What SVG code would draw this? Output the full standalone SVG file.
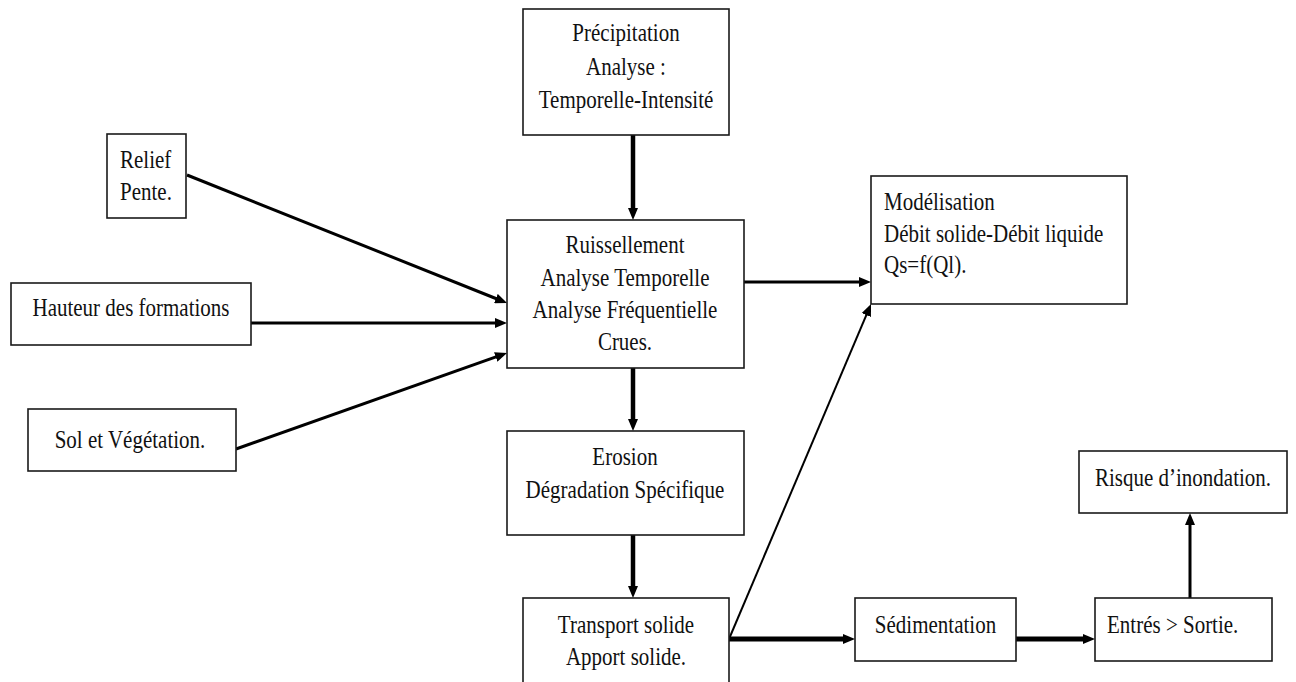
<svg xmlns="http://www.w3.org/2000/svg" width="1296" height="682" viewBox="0 0 1296 682">
<defs>
<style>
.box{fill:#fff;stroke:#1a1a1a;stroke-width:1.6}
.t{font-family:"Liberation Serif","Times New Roman",serif;font-size:25px;fill:#111}
.c{text-anchor:middle}
.l{text-anchor:start}
.ln{fill:none;stroke:#000}
</style>
<marker id="ah" viewBox="0 0 12 10" markerUnits="userSpaceOnUse" markerWidth="12" markerHeight="10" refX="4" refY="5" orient="auto">
<path d="M0,0 L12,5 L0,10 z" fill="#000"/>
</marker>
</defs>
<rect width="1296" height="682" fill="#fff"/>

<g id="connectors">
<line class="ln" x1="633" y1="135" x2="633" y2="212" stroke-width="4.5" marker-end="url(#ah)"/>
<line class="ln" x1="187" y1="175" x2="499.6" y2="300" stroke-width="3" marker-end="url(#ah)"/>
<line class="ln" x1="251" y1="323" x2="499" y2="323" stroke-width="3" marker-end="url(#ah)"/>
<line class="ln" x1="236" y1="449" x2="499.5" y2="355.7" stroke-width="3" marker-end="url(#ah)"/>
<line class="ln" x1="744" y1="282" x2="863" y2="282" stroke-width="3" marker-end="url(#ah)"/>
<line class="ln" x1="633" y1="368" x2="633" y2="423" stroke-width="4.5" marker-end="url(#ah)"/>
<line class="ln" x1="633" y1="535" x2="633" y2="590" stroke-width="4.5" marker-end="url(#ah)"/>
<line class="ln" x1="729" y1="639" x2="867.9" y2="311.4" stroke-width="2" marker-end="url(#ah)"/>
<line class="ln" x1="729" y1="639" x2="847" y2="639" stroke-width="5" marker-end="url(#ah)"/>
<line class="ln" x1="1016" y1="639" x2="1087" y2="639" stroke-width="5" marker-end="url(#ah)"/>
<line class="ln" x1="1190" y1="598" x2="1190" y2="521" stroke-width="3" marker-end="url(#ah)"/>
</g>

<g id="precipitation">
<rect class="box" x="523" y="9" width="206" height="126"/>
<g transform="translate(626,0) scale(0.84,1)">
<text class="t c" x="0" y="41">Précipitation</text>
<text class="t c" x="0" y="75">Analyse :</text>
<text class="t c" x="0" y="108">Temporelle-Intensité</text>
</g>
</g>

<g id="relief">
<rect class="box" x="107" y="134" width="79" height="84"/>
<g transform="translate(120,0) scale(0.84,1)">
<text class="t l" x="0" y="168">Relief</text>
<text class="t l" x="0" y="200">Pente.</text>
</g>
</g>

<g id="hauteur">
<rect class="box" x="11" y="283" width="240" height="62"/>
<g transform="translate(131,0) scale(0.84,1)">
<text class="t c" x="0" y="316">Hauteur des formations</text>
</g>
</g>

<g id="sol">
<rect class="box" x="28" y="409" width="208" height="62"/>
<g transform="translate(130,0) scale(0.84,1)">
<text class="t c" x="0" y="448">Sol et Végétation.</text>
</g>
</g>

<g id="ruissellement">
<rect class="box" x="507" y="220" width="237" height="148"/>
<g transform="translate(625,0) scale(0.84,1)">
<text class="t c" x="0" y="253">Ruissellement</text>
<text class="t c" x="0" y="286">Analyse Temporelle</text>
<text class="t c" x="0" y="318">Analyse Fréquentielle</text>
<text class="t c" x="0" y="350">Crues.</text>
</g>
</g>

<g id="erosion">
<rect class="box" x="507" y="431" width="237" height="104"/>
<g transform="translate(625,0) scale(0.84,1)">
<text class="t c" x="0" y="465">Erosion</text>
<text class="t c" x="0" y="498">Dégradation Spécifique</text>
</g>
</g>

<g id="transport">
<rect class="box" x="523" y="598" width="206" height="100"/>
<g transform="translate(626,0) scale(0.84,1)">
<text class="t c" x="0" y="633">Transport solide</text>
<text class="t c" x="0" y="665">Apport solide.</text>
</g>
</g>

<g id="modelisation">
<rect class="box" x="871" y="176" width="256" height="128"/>
<g transform="translate(884,0) scale(0.84,1)">
<text class="t l" x="0" y="210">Modélisation</text>
<text class="t l" x="0" y="242">Débit solide-Débit liquide</text>
<text class="t l" x="0" y="273">Qs=f(Ql).</text>
</g>
</g>

<g id="sedimentation">
<rect class="box" x="855" y="598" width="161" height="63"/>
<g transform="translate(935.5,0) scale(0.84,1)">
<text class="t c" x="0" y="633">Sédimentation</text>
</g>
</g>

<g id="entres">
<rect class="box" x="1095" y="598" width="177" height="63"/>
<g transform="translate(1107,0) scale(0.84,1)">
<text class="t l" x="0" y="633">Entrés &gt; Sortie.</text>
</g>
</g>

<g id="risque">
<rect class="box" x="1079" y="451" width="208" height="62"/>
<g transform="translate(1183,0) scale(0.84,1)">
<text class="t c" x="0" y="486">Risque d’inondation.</text>
</g>
</g>
</svg>
